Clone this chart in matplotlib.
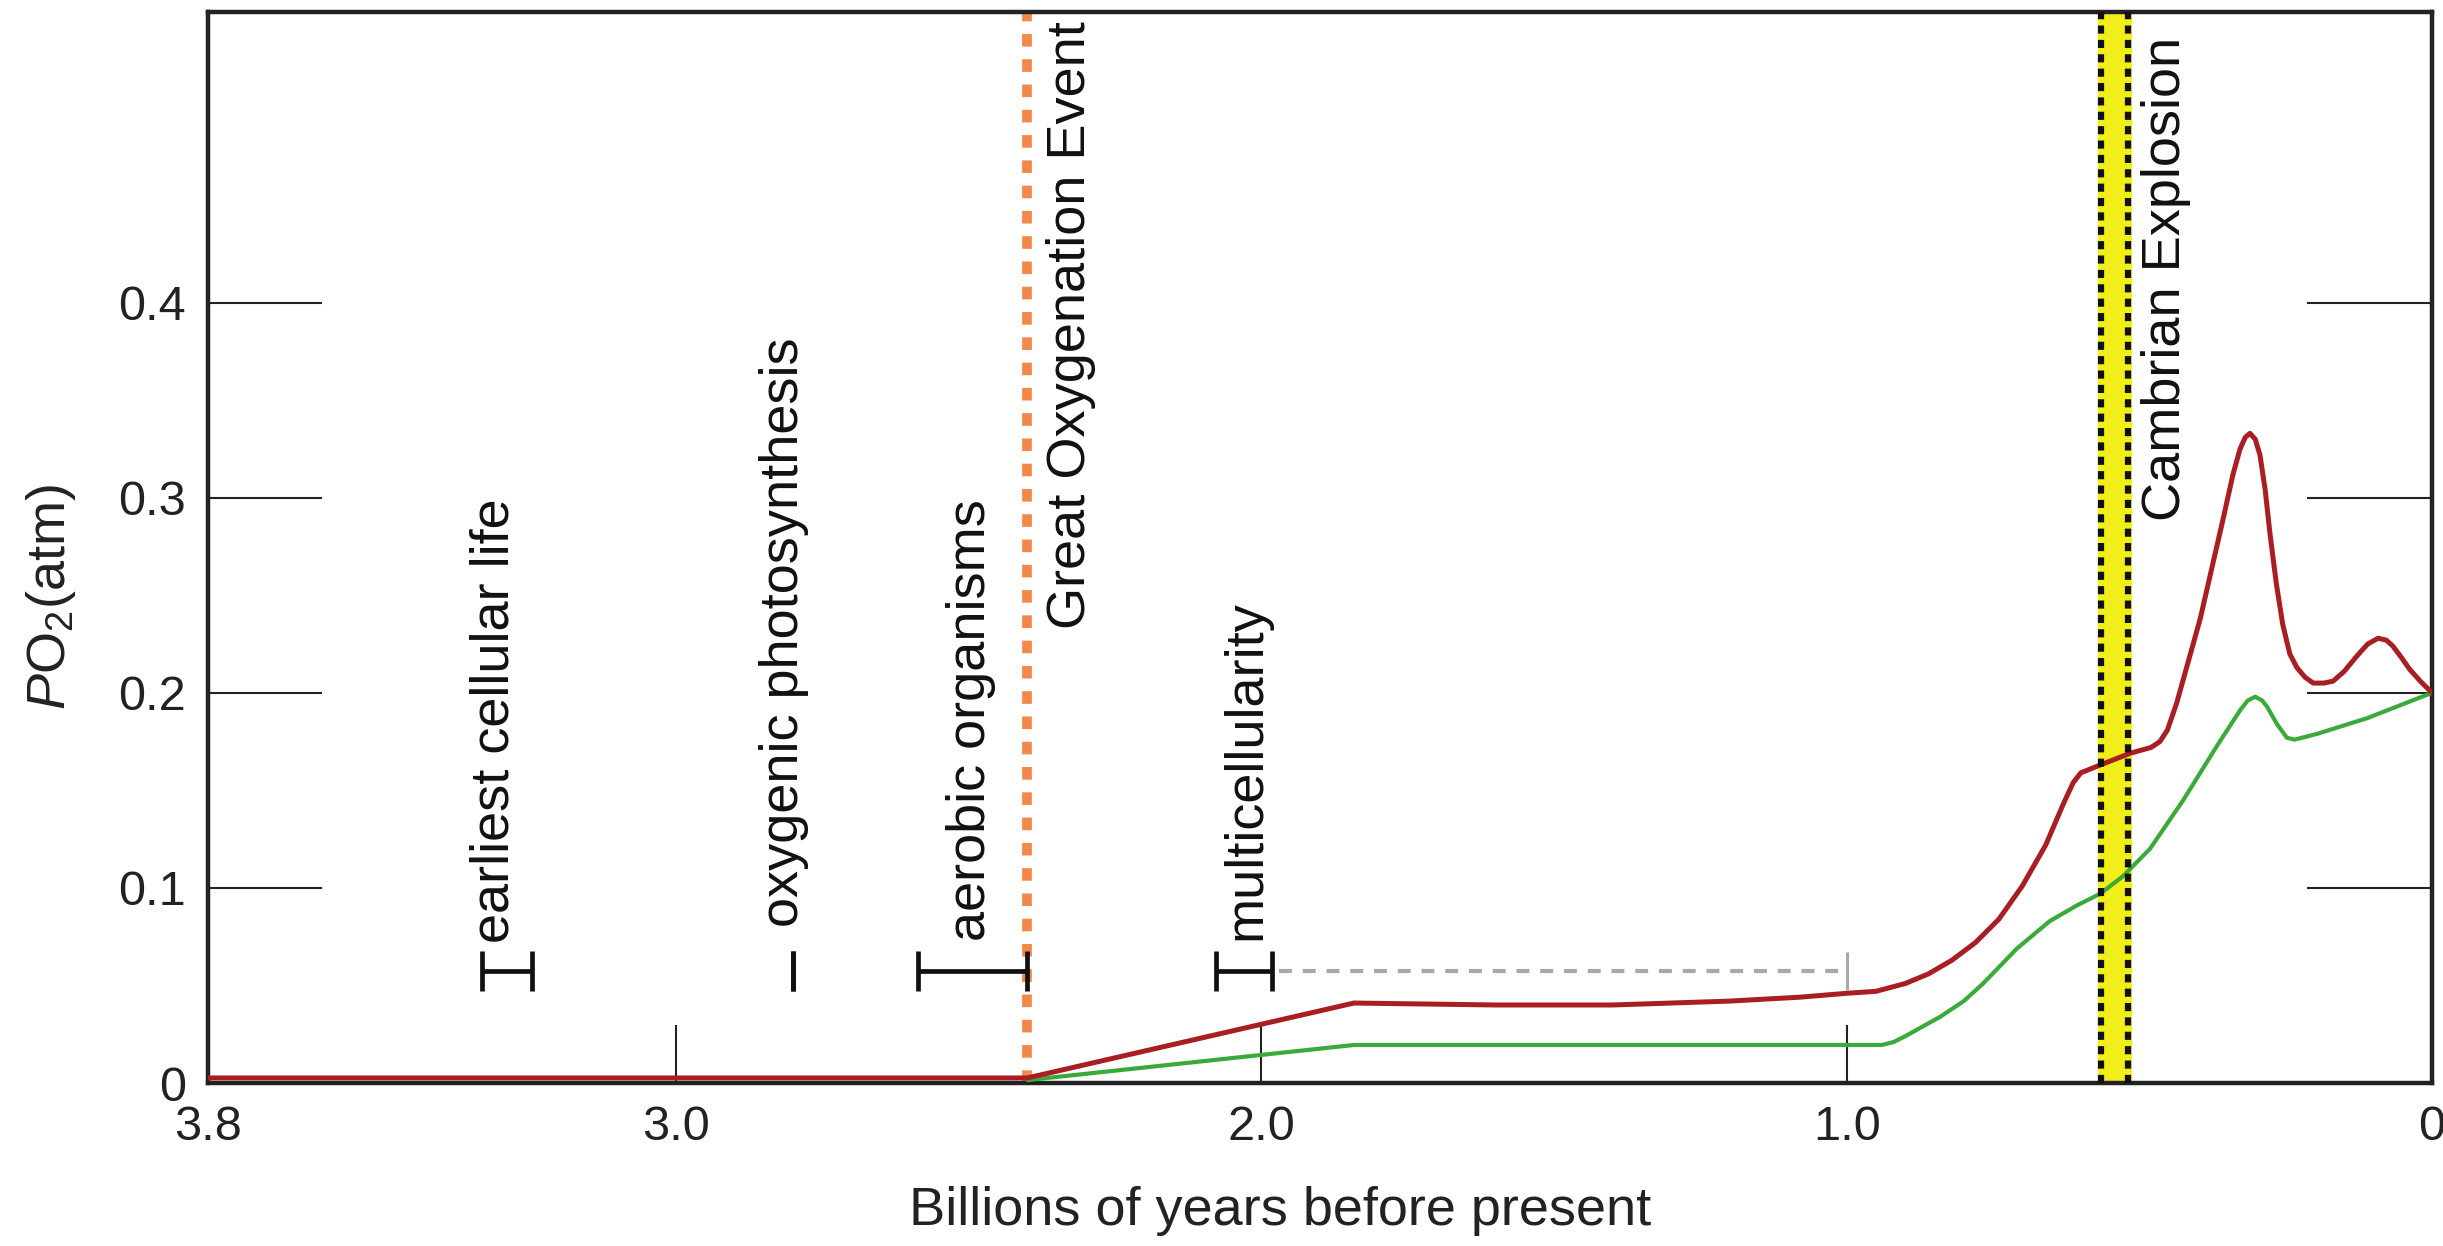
"""Atmospheric oxygen through Earth history, redrawn with matplotlib."""

import matplotlib

matplotlib.use("Agg")
import matplotlib.pyplot as plt

plt.rcParams["font.family"] = ["Liberation Sans", "DejaVu Sans"]
plt.rcParams["mathtext.fontset"] = "custom"
plt.rcParams["mathtext.rm"] = "Liberation Sans"
plt.rcParams["mathtext.it"] = "Liberation Sans:italic"

# upper estimate of PO2 (red), age in billions of years before present
upper_age = [3.8, 2.4, 1.842, 1.60, 1.40, 1.20, 1.08, 1.0, 0.95, 0.90, 0.86,
             0.82, 0.78, 0.74, 0.70, 0.66, 0.63, 0.613, 0.60, 0.567, 0.516,
             0.480, 0.465, 0.452, 0.436, 0.396, 0.357, 0.340, 0.328, 0.319,
             0.311, 0.302, 0.294, 0.285, 0.277, 0.266, 0.255, 0.243, 0.231,
             0.217, 0.203, 0.185, 0.169, 0.150, 0.128, 0.110, 0.092, 0.078,
             0.067, 0.052, 0.038, 0.020, 0.0]
upper_po2 = [0.0026, 0.0026, 0.041, 0.040, 0.040, 0.042, 0.044, 0.046, 0.047,
             0.051, 0.056, 0.063, 0.072, 0.084, 0.101, 0.122, 0.143, 0.154,
             0.159, 0.163, 0.169, 0.172, 0.175, 0.181, 0.195, 0.238, 0.289,
             0.312, 0.325, 0.331, 0.333, 0.330, 0.322, 0.304, 0.282, 0.256,
             0.235, 0.220, 0.213, 0.208, 0.205, 0.205, 0.206, 0.211, 0.219,
             0.225, 0.228, 0.227, 0.224, 0.218, 0.212, 0.206, 0.200]

# lower estimate of PO2 (green)
lower_age = [2.4, 1.842, 0.94, 0.92, 0.90, 0.87, 0.84, 0.80, 0.767, 0.709,
             0.653, 0.607, 0.567, 0.528, 0.482, 0.425, 0.367, 0.328, 0.315,
             0.302, 0.290, 0.282, 0.265, 0.248, 0.235, 0.196, 0.111, 0.0]
lower_po2 = [0.0015, 0.0195, 0.0195, 0.021, 0.024, 0.029, 0.034, 0.042, 0.051,
             0.069, 0.083, 0.091, 0.097, 0.106, 0.120, 0.145, 0.173, 0.191,
             0.196, 0.198, 0.196, 0.193, 0.184, 0.177, 0.176, 0.179, 0.187,
             0.200]

# biological milestones with their age ranges
event_labels = ["earliest cellular life", "oxygenic photosynthesis",
                "aerobic organisms", "multicellularity"]
event_oldest = [3.331, 2.80, 2.587, 2.078]
event_youngest = [3.247, 2.80, 2.401, 1.982]
multicell_possible_end = 1.0

goe_age = 2.4
goe_label = "Great Oxygenation Event"
cambrian_edges = [0.565, 0.519]
cambrian_label = "Cambrian Explosion"

x_ticks = [3.8, 3.0, 2.0, 1.0, 0.0]
x_tick_labels = ["3.8", "3.0", "2.0", "1.0", "0"]
y_ticks = [0.0, 0.1, 0.2, 0.3, 0.4]
y_tick_labels = ["0", "0.1", "0.2", "0.3", "0.4"]

INK = "#222222"
RED = "#A81E22"
GREEN = "#3BAA3A"
ORANGE = "#F2894A"
YELLOW = "#F2EE1A"
GRAY = "#A8A8A8"

fig = plt.figure(figsize=(24.43, 12.46), dpi=100)
ax = fig.add_axes([0.0851, 0.1308, 0.9104, 0.8596])
ax.set_xlim(3.8, 0)
ax.set_ylim(0, 0.549)

# Cambrian band with dotted edges
ax.axvspan(cambrian_edges[1] - 0.006, cambrian_edges[0] + 0.006,
           color=YELLOW, lw=0, zorder=1)
for edge in cambrian_edges:
    ax.axvline(edge, color="#111111", lw=4.5, ls=(0, (1.3, 1.0)), zorder=4)

# Great Oxygenation Event
ax.axvline(goe_age, color=ORANGE, lw=7, ls=(0, (1.3, 1.3)), zorder=1.5)

ax.plot(lower_age, lower_po2, color=GREEN, lw=3.0, solid_joinstyle="round",
        solid_capstyle="round", zorder=3)
ax.plot(upper_age, upper_po2, color=RED, lw=3.6, solid_joinstyle="round",
        solid_capstyle="round", zorder=3)

# milestone range bars
bar_y = 0.0574
for oldest, youngest in zip(event_oldest, event_youngest):
    mid = (oldest + youngest) / 2
    half = (oldest - youngest) / 2
    ax.errorbar([mid], [bar_y], xerr=[[half], [half]], fmt="none",
                ecolor="#111111", elinewidth=3.4, capsize=14.5, capthick=3.4,
                zorder=4)

# possible later onset of multicellularity
ax.plot([event_youngest[3] - 0.012, multicell_possible_end], [bar_y, bar_y],
        color=GRAY, lw=3, ls=(0, (3.1, 2.6)), zorder=3)
ax.plot([multicell_possible_end], [bar_y], marker="|", markersize=28,
        markeredgewidth=2.2, color=GRAY, zorder=3)

# labels (rotated, reading upward)
label_x = [3.286, 2.792, 2.472, 2.002]
label_y = [0.0718, 0.080, 0.0728, 0.0733]
text_kw = dict(rotation=90, rotation_mode="anchor", ha="left", va="baseline",
               fontsize=39, color="#111111", zorder=5)
for text, lx, ly in zip(event_labels, label_x, label_y):
    ax.text(lx, ly, text, **text_kw)
ax.text(2.301, 0.2328, goe_label, **text_kw)
ax.text(0.4306, 0.288, cambrian_label, **text_kw)

# axes styling
ax.set_xticks(x_ticks)
ax.set_xticklabels(x_tick_labels)
ax.set_yticks(y_ticks)
ax.set_yticklabels(y_tick_labels)
ax.tick_params(axis="x", direction="in", length=42, width=1.5, pad=16,
               labelsize=35, colors=INK)
ax.tick_params(axis="y", direction="in", length=82, width=1.5, pad=16,
               labelsize=35, colors=INK, left=True, right=True)
for tick in ax.yaxis.get_major_ticks():
    tick.tick2line.set_markersize(90)
for spine in ax.spines.values():
    spine.set_linewidth(3.2)
    spine.set_color(INK)

ax.set_xlabel("Billions of years before present", fontsize=39, color=INK)
ax.xaxis.set_label_coords(0.482, -0.096)
ax.set_ylabel("$P$O$_2$(atm)", fontsize=39, color=INK)
ax.yaxis.set_label_coords(-0.0585, 0.454)

fig.savefig("out.png", dpi=100)
plt.close(fig)
